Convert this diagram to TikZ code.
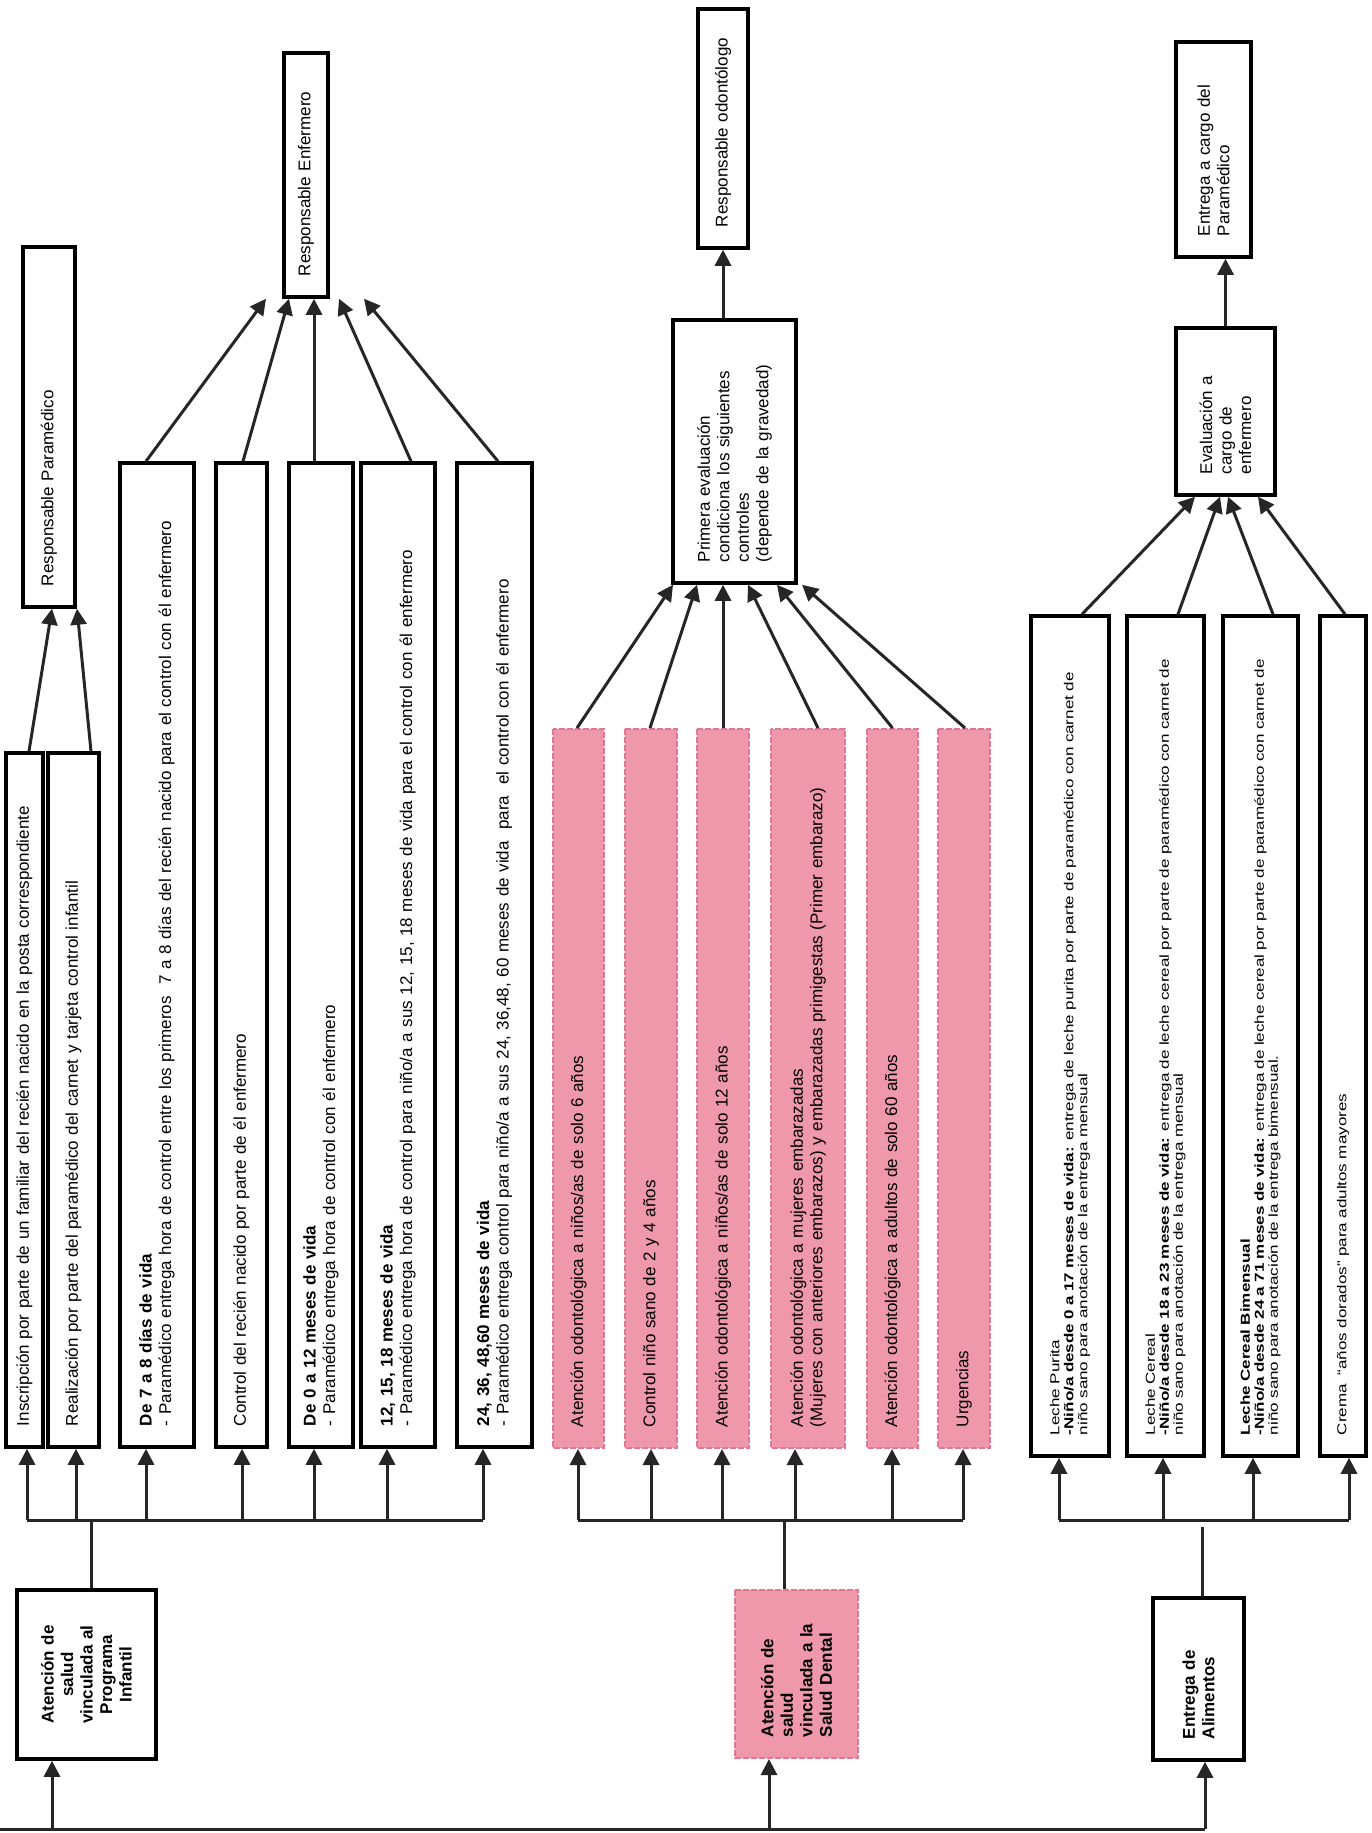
\documentclass[tikz,border=0pt]{standalone}
\usepackage{fontspec}
\setmainfont{Liberation Sans}
\newfontfamily\foodf[FakeStretch=1.31]{Liberation Sans}
\usetikzlibrary{arrows.meta}
\definecolor{pinkfill}{RGB}{239,152,172}
\definecolor{pinkedge}{RGB}{228,118,145}
\newcommand{\mainsize}{\fontsize{17}{19.5}\selectfont}
\newcommand{\foodsize}{\foodf\fontsize{13}{14}\selectfont}
\tikzset{
  wbox/.style={draw=black, line width=3.5pt, fill=white, rotate=90, align=left,
    inner xsep=21pt, inner ysep=2pt, font=\mainsize},
  pbox/.style={draw=pinkedge, line width=2pt, dash pattern=on 6pt off 2pt, fill=pinkfill,
    rotate=90, align=left, inner xsep=21pt, inner ysep=2pt, font=\mainsize},
  fbox/.style={wbox, font=\foodsize},
  conn/.style={line width=3pt, draw=black!85},
  arr/.style={conn, -{Triangle[length=16pt,width=16pt]}},
}
\begin{document}
\begin{tikzpicture}[x=1pt,y=-1pt]
\useasboundingbox (0,0) rectangle (1371,1833);

% ---------------- Section 1: Programa Infantil ----------------
\node[wbox, font=\mainsize\bfseries, align=center, minimum width=169pt, minimum height=139pt, text width=127pt] (A1) at (86.5,1674.5) {Atención de\\salud\\vinculada al\\Programa\\Infantil};

\node[wbox, minimum width=694pt, minimum height=37pt, text width=652pt] (B1) at (24.5,1100) {Inscripción por parte de un familiar del recién nacido en la posta correspondiente};
\node[wbox, minimum width=694pt, minimum height=51pt, text width=652pt] (B2) at (73.5,1100) {Realización por parte del paramédico del carnet y tarjeta control infantil};
\node[wbox, minimum width=984pt, minimum height=74pt, text width=942pt] (B3) at (157,955) {\textbf{De 7 a 8 días de vida}\\- Paramédico entrega hora de control entre los primeros\ \ 7 a 8 días del recién nacido para el control con él enfermero};
\node[wbox, minimum width=984pt, minimum height=51pt, text width=942pt] (B4) at (241.5,955) {Control del recién nacido por parte de él enfermero};
\node[wbox, minimum width=984pt, minimum height=64pt, text width=942pt] (B5) at (321,955) {\textbf{De 0 a 12 meses de vida}\\- Paramédico entrega hora de control con él enfermero};
\node[wbox, minimum width=984pt, minimum height=74pt, text width=942pt] (B6) at (398,955) {\textbf{12, 15, 18 meses de vida}\\- Paramédico entrega hora de control para niño/a a sus 12, 15, 18 meses de vida para el control con él enfermero};
\node[wbox, minimum width=984pt, minimum height=75pt, text width=942pt] (B7) at (494.5,955) {\textbf{24, 36, 48,60 meses de vida}\\- Paramédico entrega control para niño/a a sus 24, 36,48, 60 meses de vida\ \ para\ \ el control con él enfermero};

\node[wbox, minimum width=360pt, minimum height=52pt, text width=318pt] (RP) at (49,427) {Responsable Paramédico};
\node[wbox, minimum width=244pt, minimum height=44pt, text width=202pt] (RE) at (306,175) {Responsable Enfermero};

% ---------------- Section 2: Salud Dental ----------------
\node[pbox, font=\mainsize\bfseries, minimum width=168pt, minimum height=123pt, text width=126pt] (D1) at (796.5,1674) {Atención de\\salud\\vinculada a la\\Salud Dental};

\node[pbox, minimum width=719pt, minimum height=51pt, text width=677pt] (P1) at (578.5,1088.5) {Atención odontológica a niños/as de solo 6 años};
\node[pbox, minimum width=719pt, minimum height=52pt, text width=677pt] (P2) at (651,1088.5) {Control niño sano de 2 y 4 años};
\node[pbox, minimum width=719pt, minimum height=52pt, text width=677pt] (P3) at (723,1088.5) {Atención odontológica a niños/as de solo 12 años};
\node[pbox, minimum width=719pt, minimum height=74pt, text width=677pt] (P4) at (808,1088.5) {Atención odontológica a mujeres embarazadas\\(Mujeres con anteriores embarazos) y embarazadas primigestas (Primer embarazo)};
\node[pbox, minimum width=719pt, minimum height=51pt, text width=677pt] (P5) at (892.5,1088.5) {Atención odontológica a adultos de solo 60 años};
\node[pbox, minimum width=719pt, minimum height=52pt, text width=677pt] (P6) at (964,1088.5) {Urgencias};

\node[wbox, minimum width=263pt, minimum height=123pt, text width=221pt] (PE) at (734.5,451.5) {Primera evaluación\\condiciona los siguientes\\controles\\(depende de la gravedad)};
\node[wbox, minimum width=239pt, minimum height=50pt, text width=197pt] (RO) at (723,128.5) {Responsable odontólogo};

% ---------------- Section 3: Entrega de Alimentos ----------------
\node[wbox, font=\mainsize\bfseries, minimum width=162pt, minimum height=91pt, text width=120pt] (E1) at (1198.5,1679) {Entrega de\\Alimentos};

\node[fbox, minimum width=840pt, minimum height=78pt, text width=798pt] (F1) at (1070,1036) {Leche Purita\\\textbf{-Niño/a desde 0 a 17 meses de vida:} entrega de leche purita por parte de paramédico con carnet de\\niño sano para anotación de la entrega mensual};
\node[fbox, minimum width=840pt, minimum height=77pt, text width=798pt] (F2) at (1165.5,1036) {Leche Cereal\\\textbf{-Niño/a desde 18 a 23 meses de vida:} entrega de leche cereal por parte de paramédico con carnet de\\niño sano para anotación de la entrega mensual};
\node[fbox, minimum width=840pt, minimum height=75pt, text width=798pt] (F3) at (1260.5,1036) {\textbf{Leche Cereal Bimensual}\\\textbf{-Niño/a desde 24 a 71 meses de vida:} entrega de leche cereal por parte de paramédico con carnet de\\niño sano para anotación de la entrega bimensual.};
\node[fbox, minimum width=840pt, minimum height=46pt, text width=798pt] (F4) at (1343,1036) {Crema\ \ “años dorados” para adultos mayores};

\node[wbox, minimum width=167pt, minimum height=99pt, text width=125pt] (EV) at (1225.5,411.5) {Evaluación a\\cargo de\\enfermero};
\node[wbox, minimum width=215pt, minimum height=75pt, text width=173pt] (EP) at (1213.5,149.5) {Entrega a cargo del\\Paramédico};

% ---------------- Connectors ----------------
% base line
\coordinate (b0) at (0,1829);
\coordinate (bA) at (52,1829);
\coordinate (bD) at (769,1829);
\coordinate (bE) at (1205,1829);
\draw[conn] (b0) -- (bE);
\draw[arr] (bA) -- (bA |- A1.west);
\draw[arr] (bD) -- (bD |- D1.west);
\draw[arr] (bE) -- (bE |- E1.west);

% section 1 hub
\coordinate (h1) at (91,1520);
\coordinate (h1L) at (27,1520);
\coordinate (h1R) at (483,1520);
\draw[conn] (h1 |- A1.east) -- (h1);
\draw[conn] (h1L) -- (h1R);
\foreach \x/\n in {27/B1,76/B2,146/B3,242/B4,314/B5,387/B6,483/B7}
  \draw[arr] (\x,1520) -- (\x,1520 |- \n.west);
\draw[arr] ([xshift=4.5pt]B1.east) -- ([xshift=3pt]RP.west);
\draw[arr] ([xshift=17.5pt]B2.east) -- ([xshift=28pt]RP.west);
\draw[arr] ([xshift=-11pt]B3.east) -- ([xshift=-40pt]RE.west);
\draw[arr] ([xshift=1.5pt]B4.east) -- ([xshift=-17pt]RE.west);
\draw[arr] ([xshift=-7pt]B5.east) -- ([xshift=8pt]RE.west);
\draw[arr] ([xshift=13pt]B6.east) -- ([xshift=33pt]RE.west);
\draw[arr] ([xshift=3.5pt]B7.east) -- ([xshift=58pt]RE.west);

% section 2 hub
\coordinate (h2) at (784,1520);
\coordinate (h2L) at (578,1520);
\coordinate (h2R) at (963,1520);
\draw[conn] (h2 |- D1.east) -- (h2);
\draw[conn] (h2L) -- (h2R);
\foreach \x/\n in {578/P1,651/P2,722/P3,795/P4,892/P5,963/P6}
  \draw[arr] (\x,1520) -- (\x,1520 |- \n.west);
\draw[arr] ([xshift=-1.5pt]P1.east) -- ([xshift=-61.5pt]PE.west);
\draw[arr] ([xshift=-1pt]P2.east) -- ([xshift=-37.5pt]PE.west);
\draw[arr] (P3.east) -- ([xshift=-11.5pt]PE.west);
\draw[arr] ([xshift=10pt]P4.east) -- ([xshift=13.5pt]PE.west);
\draw[arr] (P5.east) -- ([xshift=42.5pt]PE.west);
\draw[arr] ([xshift=1pt]P6.east) -- ([xshift=67.5pt]PE.west);
\draw[arr] ([xshift=-11.5pt]PE.east) -- (RO.west);

% section 3 hub
\coordinate (h3) at (1202,1527);
\coordinate (h3L) at (1059,1520);
\coordinate (h3R) at (1349,1520);
\draw[conn] (h3 |- E1.east) -- (h3);
\draw[conn] (h3L) -- (h3R);
\foreach \x/\n in {1059/F1,1163/F2,1253/F3,1349/F4}
  \draw[arr] (\x,1520) -- (\x,1520 |- \n.west);
\draw[arr] ([xshift=12pt]F1.east) -- ([xshift=-30.5pt]EV.west);
\draw[arr] ([xshift=12.5pt]F2.east) -- ([xshift=-5.5pt]EV.west);
\draw[arr] ([xshift=12.5pt]F3.east) -- ([xshift=2.5pt]EV.west);
\draw[arr] ([xshift=2pt]F4.east) -- ([xshift=32.5pt]EV.west);
\draw[arr] (EV.east) -- ([xshift=12pt]EP.west);
\end{tikzpicture}
\end{document}
